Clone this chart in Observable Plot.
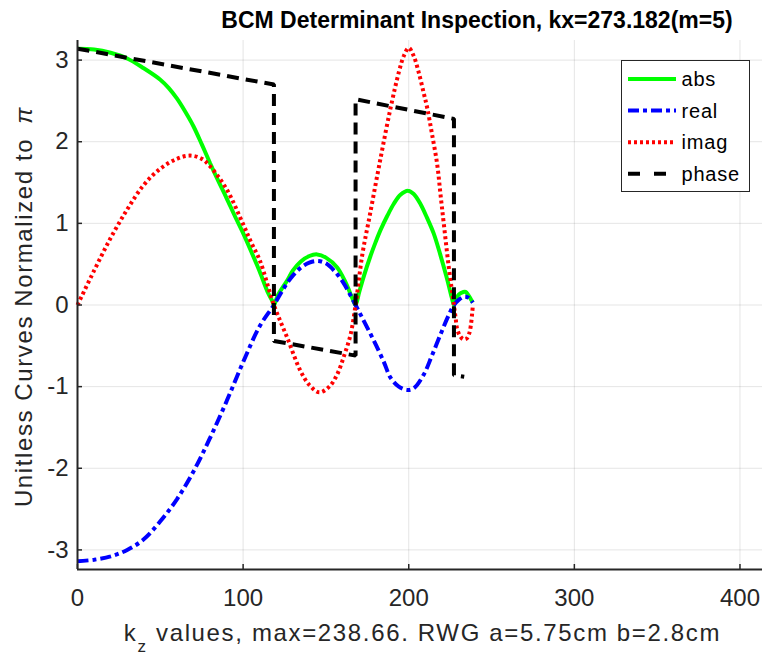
<!DOCTYPE html>
<html>
<head>
<meta charset="utf-8">
<script src="https://cdn.jsdelivr.net/npm/d3@7"></script>
<script src="https://cdn.jsdelivr.net/npm/@observablehq/plot@0.6"></script>
<style>
  body { margin: 0; background: #fff; }
  svg { display: block; }
</style>
</head>
<body>
<div id="chart"></div>
<script>
// Determinant of the BCM system versus kz, all curves divided by pi.
const absKz  = [0, 10, 20, 30, 40, 50, 55, 60, 65, 70, 75, 80, 85, 90, 95, 100, 105, 110, 115, 117.6, 118.6,
                121, 126.6, 130, 134.7, 140, 144.7, 150, 156.8, 162, 166, 167.9,
                170, 173, 176.9, 180, 183, 187, 191, 195, 199.5, 203, 207, 211, 215, 219, 223, 226, 227.3,
                228.5, 230.3, 233, 234.3, 236, 237.5, 238.66];
const absVal = [3.14, 3.13, 3.09, 3.02, 2.90, 2.76, 2.66, 2.53, 2.37, 2.19, 1.97, 1.74, 1.52, 1.31, 1.09, 0.88, 0.65, 0.41, 0.15, 0.05, 0,
                0.12, 0.30, 0.42, 0.53, 0.60, 0.62, 0.58, 0.46, 0.27, 0.08, 0,
                0.15, 0.36, 0.60, 0.77, 0.92, 1.09, 1.24, 1.35, 1.40, 1.36, 1.24, 1.07, 0.88, 0.62, 0.33, 0.09, 0,
                0.07, 0.13, 0.16, 0.16, 0.12, 0.07, 0.03];

const realKz  = [0, 10, 20, 30, 40, 50, 60, 70, 80, 90, 100, 110, 118.6,
                 125, 130, 135, 140, 145, 150, 155, 160, 164, 167.9,
                 172, 179, 185, 189, 194, 199, 203, 209.1, 214, 219.2, 224, 227.3,
                 230, 233.3, 236, 238.66];
const realVal = [-3.14, -3.12, -3.08, -3.00, -2.87, -2.65, -2.38, -2.04, -1.63, -1.18, -0.70, -0.26, 0,
                 0.22, 0.36, 0.46, 0.52, 0.54, 0.51, 0.42, 0.29, 0.15, 0,
                 -0.16, -0.44, -0.70, -0.89, -1.00, -1.04, -1.02, -0.85, -0.62, -0.36, -0.13, 0,
                 0.06, 0.10, 0.09, 0.03];

const imagKz  = [0, 10, 20, 30, 40, 50, 60, 68, 75, 80, 90, 100, 105, 110, 118.6,
                 126.6, 134.7, 140, 146, 152, 156.8, 161, 164.9, 167.9,
                 172, 176.5, 183, 189, 194, 197, 200, 203, 206, 209, 211.2, 214, 217.2, 219.2, 221.2, 224.2, 227.3,
                 228.3, 229.3, 231, 233, 235, 236.5, 237.5, 238.3, 238.66];
const imagVal = [0, 0.42, 0.82, 1.17, 1.47, 1.67, 1.79, 1.83, 1.79, 1.70, 1.42, 0.99, 0.76, 0.55, 0,
                 -0.40, -0.81, -0.98, -1.07, -1.00, -0.85, -0.62, -0.36, 0,
                 0.62, 1.10, 1.80, 2.41, 2.85, 3.05, 3.15, 3.05, 2.85, 2.60, 2.41, 2.10, 1.72, 1.35, 0.99, 0.46, 0,
                 -0.16, -0.30, -0.38, -0.42, -0.41, -0.35, -0.25, -0.10, -0.02];

const phaseKz  = [0, 118.6, 118.6, 167.9, 167.9, 227.3, 227.3, 233.5];
const phaseVal = [3.14, 2.70, -0.44, -0.62, 2.52, 2.28, -0.86, -0.88];

const xTicks = [0, 100, 200, 300, 400];
const yTicks = [-3, -2, -1, 0, 1, 2, 3];
const seriesNames = ["abs", "real", "imag", "phase"];

const titleText = "BCM Determinant Inspection, kx=273.182(m=5)";
const xLabelMain = "k";
const xLabelSub = "z";
const xLabelRest = " values, max=238.66. RWG a=5.75cm b=2.8cm";
const yLabelText = "Unitless Curves Normalized to ";
const yLabelSymbol = "π";

const rows = (kz, v) => kz.map((k, i) => ({kz: k, v: v[i]}));
const fmt = d => (d < 0 ? "-" + Math.abs(d) : String(d));

const W = 762, H = 658;
const mTop = 40, mBottom = 89, mLeft = 77, mRight = 0;
const innerW = W - mLeft - mRight, innerH = H - mTop - mBottom;
const ink = "#262626";
const lw = 4;

const styles = {
  abs:   {stroke: "#00ff00", strokeWidth: lw},
  real:  {stroke: "#0000ff", strokeWidth: lw, strokeDasharray: "11,4,4,4"},
  imag:  {stroke: "#ff0000", strokeWidth: lw, strokeDasharray: "3,3"},
  phase: {stroke: "#000000", strokeWidth: lw, strokeDasharray: "12,7"}
};
const lineOpts = {x: "kz", y: "v", strokeLinecap: "butt", strokeLinejoin: "miter"};

const chart = Plot.plot({
  width: W,
  height: H,
  marginTop: mTop,
  marginBottom: mBottom,
  marginLeft: mLeft,
  marginRight: mRight,
  style: {fontFamily: "'Liberation Sans', Arial, Helvetica, sans-serif", color: ink, background: "#fff"},
  x: {domain: [0, 413.6]},
  y: {domain: [-3.24, 3.24]},
  marks: [
    Plot.gridX(xTicks, {stroke: ink, strokeOpacity: 0.12, strokeWidth: 1}),
    Plot.gridY(yTicks, {stroke: ink, strokeOpacity: 0.12, strokeWidth: 1}),
    Plot.line(rows(absKz, absVal), {...lineOpts, curve: "catmull-rom", ...styles.abs}),
    Plot.line(rows(realKz, realVal), {...lineOpts, curve: "catmull-rom", ...styles.real}),
    Plot.line(rows(imagKz, imagVal), {...lineOpts, curve: "catmull-rom", ...styles.imag}),
    Plot.line(rows(phaseKz, phaseVal), {...lineOpts, curve: "linear", ...styles.phase}),
    // inward tick marks
    Plot.ruleX(xTicks, {insetTop: innerH - 5, stroke: ink, strokeWidth: 1.5}),
    Plot.ruleY(yTicks, {insetRight: innerW - 5, stroke: ink, strokeWidth: 1.5}),
    // axis lines (box off)
    Plot.ruleX([0], {stroke: ink, strokeWidth: 2}),
    Plot.ruleY([-3.24], {stroke: ink, strokeWidth: 2}),
    Plot.axisX(xTicks, {tickSize: 0, tickPadding: 19, fontSize: 24, label: null, fill: ink, tickFormat: fmt}),
    Plot.axisY(yTicks, {tickSize: 0, tickPadding: 9, fontSize: 24, label: null, fill: ink, tickFormat: fmt})
  ]
});

document.getElementById("chart").appendChild(chart);

const svg = d3.select(chart);
const font = "'Liberation Sans', Arial, Helvetica, sans-serif";
const cy = mTop + innerH / 2;

// title
svg.append("text")
  .attr("x", 477).attr("y", 28)
  .attr("text-anchor", "middle")
  .attr("font-family", font).attr("font-size", 23).attr("font-weight", "bold")
  .attr("fill", "#000")
  .text(titleText);

// x label with subscript
const xl = svg.append("text")
  .attr("x", 422.5).attr("y", 641)
  .attr("text-anchor", "middle")
  .attr("font-family", font).attr("font-size", 24)
  .attr("letter-spacing", 1.65)
  .attr("fill", ink);
xl.append("tspan").text(xLabelMain);
xl.append("tspan").attr("dy", 11).attr("font-size", 17).text(xLabelSub);
xl.append("tspan").attr("dy", -11).text(xLabelRest);

// y label
const yl = svg.append("text")
  .attr("transform", `translate(32,${cy + 2}) rotate(-90)`)
  .attr("text-anchor", "middle")
  .attr("font-family", font).attr("font-size", 24)
  .attr("letter-spacing", 1.6)
  .attr("fill", ink);
yl.append("tspan").text(yLabelText);
yl.append("tspan").attr("dx", 6).attr("font-style", "italic").text(yLabelSymbol);

// legend
const lg = svg.append("g");
const lgX = 621.5, lgY = 60.5, lgW = 128, lgH = 131;
lg.append("rect")
  .attr("x", lgX).attr("y", lgY).attr("width", lgW).attr("height", lgH)
  .attr("fill", "#fff").attr("stroke", ink).attr("stroke-width", 1);
const legendDash = {abs: null, real: "11,4,4,4", imag: "3,3", phase: "12,14"};
seriesNames.forEach((name, i) => {
  const yy = 79 + i * 31.6;
  lg.append("line")
    .attr("x1", 628).attr("x2", 676).attr("y1", yy).attr("y2", yy)
    .attr("stroke", styles[name].stroke).attr("stroke-width", lw)
    .attr("stroke-linecap", "butt")
    .attr("stroke-dasharray", legendDash[name]);
  lg.append("text")
    .attr("x", 681.5).attr("y", yy).attr("dy", "0.35em")
    .attr("text-anchor", "start")
    .attr("font-family", font).attr("font-size", 20)
    .attr("letter-spacing", 0.8)
    .attr("fill", "#000")
    .text(name);
});
</script>
</body>
</html>
